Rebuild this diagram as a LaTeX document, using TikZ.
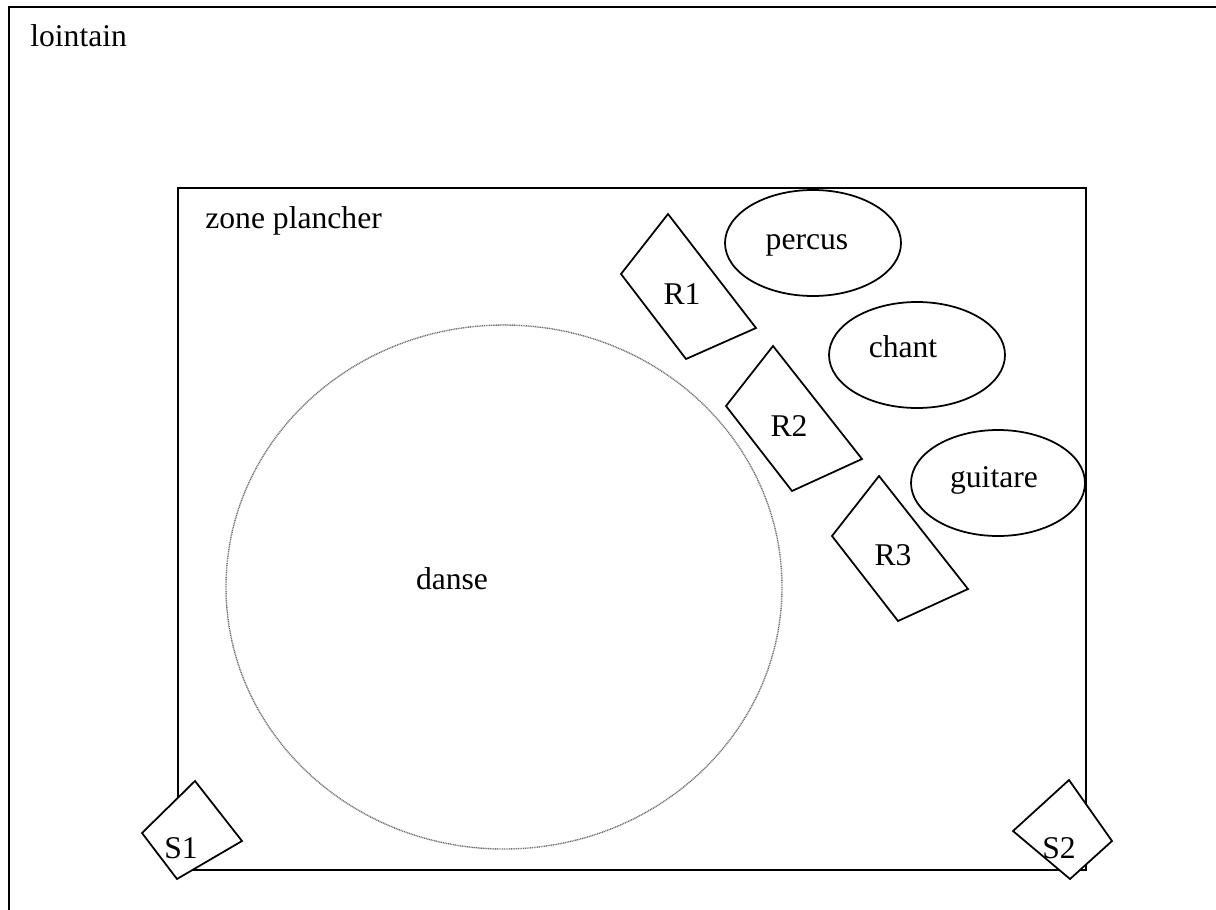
\documentclass[tikz,border=0pt]{standalone}
\usepackage{fontspec}
\setmainfont{Liberation Serif}
\begin{document}
\begin{tikzpicture}[x=0.02cm,y=-0.02cm,
  lbl/.style={inner sep=0pt,anchor=base,font=\fontsize{18}{21}\selectfont},
  shp/.style={draw=black,line width=1pt,fill=white,line join=miter},
  frame/.style={draw=black,line width=1.3pt}]
\useasboundingbox (0,0) rectangle (1216,909);
% outer frame (lointain)
\draw[frame] (9,915) -- (9,7) -- (1222,7);
\node[lbl,anchor=base west] (lointain) at (30,47) {lointain};
% zone plancher
\draw[shp,fill=none] (178,188) rectangle (1086,870);
\node[lbl,anchor=base west] (zone) at (205,228) {zone plancher};
% danse
\draw[black!55,line width=0.8pt,dash pattern=on 0.6pt off 0.4pt] (504,587) ellipse [x radius=278,y radius=262];
\node[lbl] (danse) at (452,589) {danse};
% musicians
\draw[shp] (813,243) ellipse [x radius=88,y radius=53];
\node[lbl] (percus) at (807,249) {percus};
\draw[shp] (917,355) ellipse [x radius=88,y radius=53];
\node[lbl] (chant) at (903,357) {chant};
\draw[shp] (998,483) ellipse [x radius=87,y radius=53];
\node[lbl] (guitare) at (994,487) {guitare};
% retours
\draw[shp] (668,214) -- (621,274) -- (686,359) -- (756,328) -- cycle;
\node[lbl] (R1) at (682,304) {R1};
\draw[shp] (773,346) -- (726,406) -- (792,491) -- (862,459) -- cycle;
\node[lbl] (R2) at (789,436) {R2};
\draw[shp] (879,476) -- (832,536) -- (898,621) -- (968,589) -- cycle;
\node[lbl] (R3) at (893,565) {R3};
% sonorisation
\draw[shp] (195,781) -- (142,833) -- (177,879) -- (242,841) -- cycle;
\node[lbl] (S1) at (181,858) {S1};
\draw[shp] (1069,780) -- (1013,831) -- (1070,879) -- (1112,841) -- cycle;
\node[lbl] (S2) at (1059,858) {S2};
\end{tikzpicture}
\end{document}
